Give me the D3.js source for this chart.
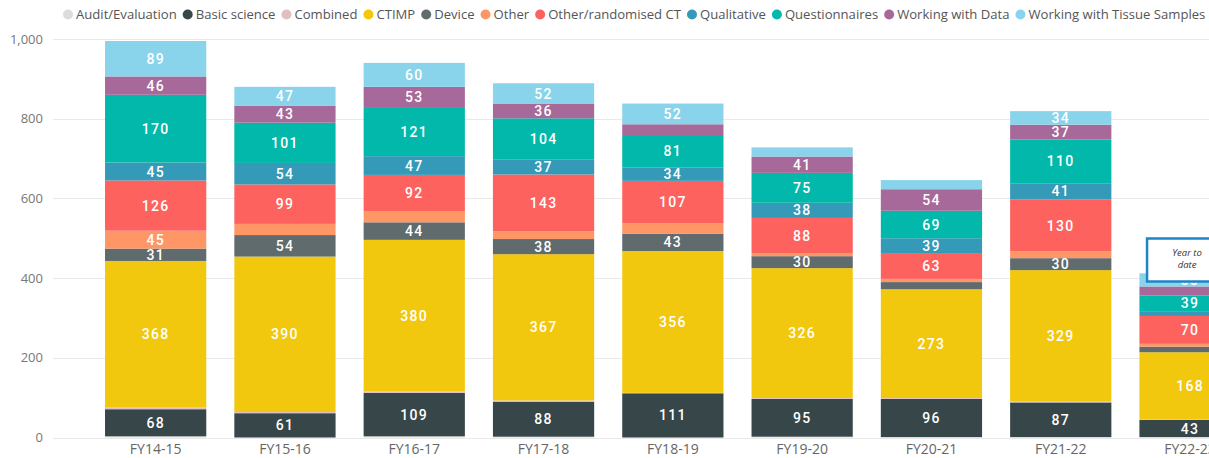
<!DOCTYPE html>
<html>
<head>
<meta charset="utf-8">
<script src="https://cdn.jsdelivr.net/npm/d3@7"></script>
<style>
  html, body { margin: 0; padding: 0; background: #fff; overflow: hidden; }
  svg { display: block; }
</style>
</head>
<body>
<svg id="chart" width="1209" height="458"></svg>
<script>
// ---- Data ----
const categories = ["FY14-15","FY15-16","FY16-17","FY17-18","FY18-19","FY19-20","FY20-21","FY21-22","FY22-23"];
const seriesNames = ["Audit/Evaluation","Basic science","Combined","CTIMP","Device","Other","Other/randomised CT","Qualitative","Questionnaires","Working with Data","Working with Tissue Samples"];
const seriesColors = ["#dcdcdc","#374649","#dfbfbf","#f2c80f","#5f6b6d","#fe9666","#fd625e","#3599b8","#01b8aa","#a66999","#8ad4eb"];

const auditEvaluation   = [3, 0, 3, 2, 0, 2, 1, 1, 1];
const basicScience      = [68, 61, 109, 88, 111, 95, 96, 87, 43];
const combined          = [4, 3, 4, 3, 1, 2, 2, 3, 2];
const ctimp             = [368, 390, 380, 367, 356, 326, 273, 329, 168];
const device            = [31, 54, 44, 38, 43, 30, 18, 30, 14];
const other             = [45, 28, 27, 19, 26, 8, 8, 17, 7];
const otherRandomisedCT = [126, 99, 92, 143, 107, 88, 63, 130, 70];
const qualitative       = [45, 54, 47, 37, 34, 38, 39, 41, 12];
const questionnaires    = [170, 101, 121, 104, 81, 75, 69, 110, 39];
const workingWithData   = [46, 43, 53, 36, 27, 41, 54, 37, 23];
const workingWithTissue = [89, 47, 60, 52, 52, 23, 23, 34, 33];

const yTicks = [0, 200, 400, 600, 800, 1000];
const annotationLines = ["Year to", "date"];

const seriesValues = [auditEvaluation, basicScience, combined, ctimp, device, other,
  otherRandomisedCT, qualitative, questionnaires, workingWithData, workingWithTissue];

// build table for stack
const table = categories.map((c, i) => {
  const row = { category: c };
  seriesNames.forEach((s, k) => row[s] = seriesValues[k][i]);
  return row;
});

const svg = d3.select("#chart");
const W = 1209, H = 458;

const x = d3.scaleBand()
  .domain(categories)
  .range([91, 91 + 9 * 129.3])
  .paddingInner(0.217)
  .paddingOuter(0.1085);

const y = d3.scaleLinear().domain([0, 1000]).range([437.5, 39]);

const color = d3.scaleOrdinal().domain(seriesNames).range(seriesColors);

// gridlines
const grid = svg.append("g");
grid.selectAll("line").data(yTicks).join("line")
  .attr("x1", 53).attr("x2", W)
  .attr("y1", d => Math.round(y(d)) + 0.5).attr("y2", d => Math.round(y(d)) + 0.5)
  .attr("stroke", "#e9e9e9").attr("stroke-width", 1);

// y axis labels
const yAxis = d3.axisLeft(y).tickValues(yTicks).tickFormat(d3.format(",")).tickSize(0).tickPadding(0);
const yg = svg.append("g").attr("transform", "translate(43,0)").call(yAxis);
yg.select(".domain").remove();
yg.selectAll("text").attr("fill", "#777").style("font-family", "'Open Sans', 'Noto Sans', sans-serif").style("font-size", "13px");

// x axis labels
const xAxis = d3.axisBottom(x).tickSize(0).tickPadding(0);
const xg = svg.append("g").attr("transform", "translate(0,444)").call(xAxis);
xg.select(".domain").remove();
xg.selectAll("text").attr("fill", "#666").style("font-family", "'Open Sans', 'Noto Sans', sans-serif").style("font-size", "14px");

// stacks
const stack = d3.stack().keys(seriesNames);
const stacked = stack(table);

const layers = svg.append("g").selectAll("g").data(stacked).join("g")
  .attr("fill", d => color(d.key));

layers.selectAll("rect").data(d => d.map(p => ({ p, key: d.key }))).join("rect")
  .attr("x", d => x(d.p.data.category))
  .attr("width", x.bandwidth())
  .attr("y", d => y(d.p[1]))
  .attr("height", d => Math.max(0, y(d.p[0]) - y(d.p[1])));

// data labels
const labels = svg.append("g");
stacked.forEach(layer => {
  layer.forEach(p => {
    const v = p[1] - p[0];
    if (v >= 30) {
      labels.append("text")
        .attr("x", x(p.data.category) + x.bandwidth() / 2)
        .attr("y", (y(p[0]) + y(p[1])) / 2)
        .attr("dy", "0.36em")
        .attr("text-anchor", "middle")
        .attr("fill", "#fff")
        .style("font-family", "Roboto, 'DejaVu Sans', sans-serif")
        .style("font-weight", "500")
        .style("font-size", "14px")
        .style("letter-spacing", "1.3px")
        .text(v);
    }
  });
});

// annotation box over last bar
const lastCat = categories[categories.length - 1];
const ax = x(lastCat) + x.bandwidth() / 2 - 3;
const ann = svg.append("g");
ann.append("rect")
  .attr("x", ax - 40).attr("y", 238.5)
  .attr("width", 80).attr("height", 43)
  .attr("fill", "#fff").attr("stroke", "#1f84c8").attr("stroke-width", 2.5);
annotationLines.forEach((t, i) => {
  ann.append("text")
    .attr("x", ax).attr("y", 256 + i * 12)
    .attr("text-anchor", "middle")
    .attr("fill", "#333")
    .style("font-family", "'Open Sans', 'Noto Sans', sans-serif")
    .style("font-style", "italic")
    .style("font-size", "9.5px")
    .text(t);
});

// legend
const legend = svg.append("g");
const legendStart = 63, legendEnd = 1205;
const itemGap = 6, textOffset = 13;
let fs = 14;
function layoutLegend(size) {
  legend.selectAll("*").remove();
  let cx = legendStart;
  seriesNames.forEach((s, k) => {
    legend.append("circle").attr("cx", cx + 5).attr("cy", 14.5).attr("r", 5).attr("fill", seriesColors[k]);
    const t = legend.append("text").attr("x", cx + textOffset).attr("y", 14.5).attr("dy", "0.35em")
      .attr("fill", "#555")
      .style("font-family", "'Open Sans', 'Noto Sans', sans-serif")
      .style("font-size", size + "px")
      .text(s);
    cx += textOffset + t.node().getComputedTextLength() + itemGap;
  });
  return cx - itemGap;
}
let endX = layoutLegend(fs);
const fixed = seriesNames.length * textOffset + (seriesNames.length - 1) * itemGap;
for (let it = 0; it < 4; it++) {
  const textSpan = endX - legendStart - fixed;
  const targetText = legendEnd - legendStart - fixed;
  fs = fs * targetText / textSpan;
  endX = layoutLegend(fs);
}
</script>
</body>
</html>
